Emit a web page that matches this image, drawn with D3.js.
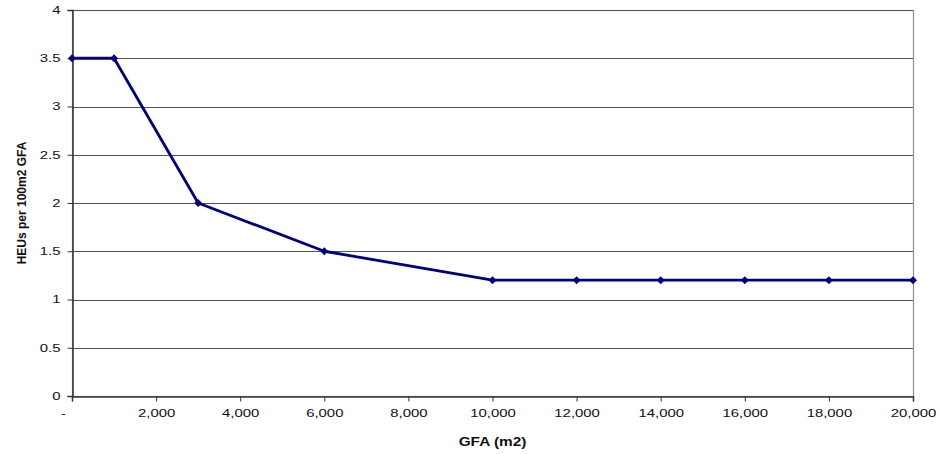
<!DOCTYPE html>
<html>
<head>
<meta charset="utf-8">
<script src="https://cdn.jsdelivr.net/npm/d3@7"></script>
<style>
  body { margin: 0; background: #fff; }
  svg { font-family: "Liberation Sans", Arial, sans-serif; }
</style>
</head>
<body>
<svg id="chart"></svg>
<script>
// GFA (m2) and HEUs per 100m2 GFA
const gfa = [0, 1000, 3000, 6000, 10000, 12000, 14000, 16000, 18000, 20000];
const heus = [3.5, 3.5, 2, 1.5, 1.2, 1.2, 1.2, 1.2, 1.2, 1.2];
const xTicks = [0, 2000, 4000, 6000, 8000, 10000, 12000, 14000, 16000, 18000, 20000];
const yTicks = [0, 0.5, 1, 1.5, 2, 2.5, 3, 3.5, 4];

const width = 940, height = 454;
const margin = { top: 10, right: 27, bottom: 58, left: 72 };
const stretch = 1.42; // the original text is drawn wide

const svg = d3.select("#chart").attr("width", width).attr("height", height);

const x = d3.scaleLinear().domain([0, 20000]).range([margin.left, width - margin.right]);
const y = d3.scaleLinear().domain([0, 4]).range([height - margin.bottom, margin.top]);

// plot border (grey) on top and right
svg.append("rect")
  .attr("x", margin.left + 0.5).attr("y", margin.top + 0.5)
  .attr("width", x(20000) - x(0)).attr("height", y(0) - y(4))
  .attr("fill", "none").attr("stroke", "#909090").attr("stroke-width", 1.2);

// horizontal gridlines
svg.append("g").selectAll("line")
  .data(yTicks.slice(1))
  .join("line")
    .attr("x1", x(0)).attr("x2", x(20000))
    .attr("y1", d => Math.round(y(d)) + 0.5).attr("y2", d => Math.round(y(d)) + 0.5)
    .attr("stroke", "#555").attr("stroke-width", 1);

// y axis
const yAxis = svg.append("g")
  .attr("transform", `translate(${margin.left + 0.5},0)`)
  .call(d3.axisLeft(y).tickValues(yTicks).tickFormat(d => String(d)).tickSize(5));
yAxis.select(".domain").attr("stroke", "#333").attr("stroke-width", 1.5);
yAxis.selectAll(".tick line").attr("stroke", "#333");
yAxis.selectAll("text")
  .attr("font-size", 10.5).attr("fill", "#111")
  .attr("font-family", "Liberation Sans, Arial, sans-serif")
  .attr("x", -12 / stretch)
  .attr("transform", `scale(${stretch},1)`);

// x axis
const fmtX = d => d === 0 ? "-" : d3.format(",")(d);
const xAxis = svg.append("g")
  .attr("transform", `translate(0,${y(0) + 0.5})`)
  .call(d3.axisBottom(x).tickValues(xTicks).tickFormat(fmtX).tickSize(5).tickPadding(8));
xAxis.select(".domain").attr("stroke", "#333").attr("stroke-width", 1.5);
xAxis.selectAll(".tick line").attr("stroke", "#333");
xAxis.selectAll("text")
  .attr("font-size", 10.5).attr("fill", "#111")
  .attr("font-family", "Liberation Sans, Arial, sans-serif")
  .attr("transform", d => `translate(${d === 0 ? -9 : 0},0) scale(${stretch},1)`);

// data line
const pts = gfa.map((g, i) => [g, heus[i]]);
svg.append("path")
  .datum(pts)
  .attr("fill", "none")
  .attr("stroke", "#000080")
  .attr("stroke-width", 2.8)
  .attr("stroke-linejoin", "round")
  .attr("d", d3.line().x(d => x(d[0])).y(d => y(d[1])));

// diamond markers
svg.append("g").selectAll("path")
  .data(pts)
  .join("path")
    .attr("transform", d => `translate(${x(d[0])},${y(d[1])})`)
    .attr("d", d3.symbol().type(d3.symbolDiamond2).size(40))
    .attr("fill", "#000080");

// axis titles
svg.append("text")
  .attr("transform", `translate(${(x(0) + x(20000)) / 2},446) scale(1.28,1)`)
  .attr("text-anchor", "middle")
  .attr("font-size", 12).attr("font-weight", "bold").attr("fill", "#111")
  .text("GFA (m2)");

svg.append("text")
  .attr("transform", `translate(26,${(y(0) + y(4)) / 2}) rotate(-90)`)
  .attr("text-anchor", "middle")
  .attr("font-size", 12).attr("font-weight", "bold").attr("fill", "#111")
  .text("HEUs per 100m2 GFA");
</script>
</body>
</html>
